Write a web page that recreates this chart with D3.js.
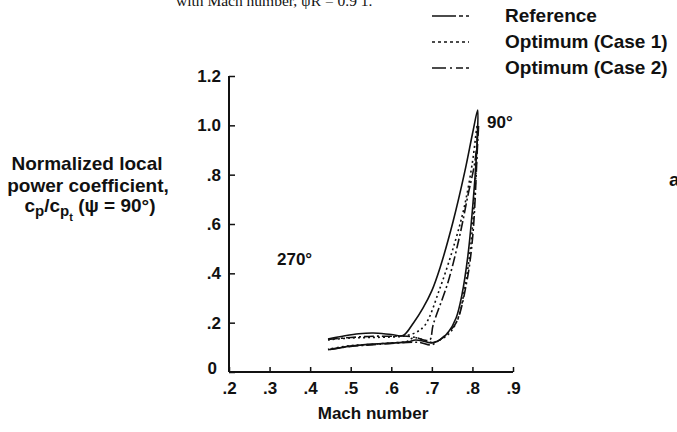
<!DOCTYPE html>
<html lang="en">
<head>
<meta charset="UTF-8">
<title>Normalized local power coefficient vs Mach number</title>
<script src="https://cdn.jsdelivr.net/npm/d3@7"></script>
<style>
  body { margin: 0; background: #fff; }
  text { font-family: "Liberation Sans", Arial, sans-serif; font-weight: bold; fill: #111; }
</style>
</head>
<body>
<div id="chart"></div>
<script>
// data: [Mach number, cp/cpt], 270 deg -> 90 deg -> 270 deg
const refMach = [0.444, 0.48, 0.52, 0.555, 0.60, 0.629, 0.655, 0.678, 0.70, 0.72, 0.752, 0.781, 0.801, 0.813,
                 0.812, 0.810, 0.801, 0.789, 0.774, 0.76, 0.74, 0.72, 0.70, 0.68, 0.66, 0.64, 0.60, 0.55, 0.50, 0.444];
const refCp   = [0.134, 0.145, 0.155, 0.158, 0.152, 0.148, 0.20, 0.259, 0.33, 0.422, 0.608, 0.811, 0.973, 1.062,
                 0.95, 0.88, 0.677, 0.474, 0.312, 0.22, 0.16, 0.13, 0.118, 0.125, 0.13, 0.122, 0.117, 0.113, 0.105, 0.09];

const case1Mach = [0.444, 0.50, 0.555, 0.60, 0.63, 0.66, 0.683, 0.72, 0.757, 0.781, 0.80, 0.812,
                   0.811, 0.805, 0.795, 0.78, 0.765, 0.745, 0.72, 0.70, 0.67, 0.655, 0.64, 0.60, 0.55, 0.50, 0.444];
const case1Cp   = [0.13, 0.138, 0.14, 0.142, 0.145, 0.16, 0.19, 0.34, 0.527, 0.677, 0.85, 1.0,
                   0.90, 0.70, 0.50, 0.33, 0.22, 0.16, 0.13, 0.12, 0.135, 0.14, 0.125, 0.118, 0.112, 0.107, 0.092];

const case2Mach = [0.444, 0.50, 0.555, 0.60, 0.63, 0.66, 0.68, 0.695, 0.703, 0.74, 0.769, 0.789, 0.806, 0.815,
                   0.812, 0.801, 0.786, 0.761, 0.74, 0.715, 0.698, 0.67, 0.64, 0.60, 0.55, 0.50, 0.444];
const case2Cp   = [0.132, 0.14, 0.145, 0.145, 0.146, 0.14, 0.13, 0.13, 0.19, 0.365, 0.555, 0.717, 0.851, 1.0,
                   0.90, 0.555, 0.365, 0.203, 0.16, 0.125, 0.11, 0.12, 0.12, 0.116, 0.11, 0.104, 0.09];

const xTicks = [0.2, 0.3, 0.4, 0.5, 0.6, 0.7, 0.8, 0.9];
const yTicks = [0, 0.2, 0.4, 0.6, 0.8, 1.0, 1.2];
const seriesNames = ["Reference", "Optimum (Case 1)", "Optimum (Case 2)"];

const W = 677, H = 432;
const svg = d3.select("#chart").append("svg").attr("width", W).attr("height", H);

const x = d3.scaleLinear().domain([0.2, 0.9]).range([229, 513]);
const y = d3.scaleLinear().domain([0, 1.2]).range([372, 76]);

const fmt = d => d === 0 ? "0" : (d >= 1 ? d.toFixed(1) : d.toFixed(1).replace(/^0/, ""));

// axes, ticks pointing inward
const gx = svg.append("g").attr("transform", `translate(0,${y(0)})`)
  .call(d3.axisBottom(x).tickValues(xTicks).tickFormat(fmt).tickSizeInner(-5).tickSizeOuter(0).tickPadding(10));
const gy = svg.append("g").attr("transform", `translate(${x(0.2)},0)`)
  .call(d3.axisLeft(y).tickValues(yTicks).tickFormat(fmt).tickSizeInner(-6).tickSizeOuter(0).tickPadding(8));
[gx, gy].forEach(g => {
  g.select(".domain").remove();
  g.selectAll("line").attr("stroke", "#111").attr("stroke-width", 1.5);
  g.selectAll("text").style("font-size", "17px").style("font-family", "Liberation Sans, Arial, sans-serif")
    .style("font-weight", "bold").attr("fill", "#111");
});
gy.selectAll(".tick").filter(d => d === 0).select("text").attr("dx", -4).attr("dy", "0.1em");
svg.append("line").attr("x1", x(0.2)).attr("x2", x(0.9)).attr("y1", y(0)).attr("y2", y(0))
  .attr("stroke", "#111").attr("stroke-width", 2);
svg.append("line").attr("x1", x(0.2)).attr("x2", x(0.2)).attr("y1", y(0)).attr("y2", y(1.2))
  .attr("stroke", "#111").attr("stroke-width", 2);

// curves
const line = d3.line().x(d => x(d[0])).y(d => y(d[1])).curve(d3.curveCatmullRom);
const series = [
  { mach: refMach, cp: refCp, dash: null },
  { mach: case1Mach, cp: case1Cp, dash: "2,3" },
  { mach: case2Mach, cp: case2Cp, dash: "10,3,2,3" }
];
series.forEach(s => {
  svg.append("path")
    .datum(s.mach.map((m, i) => [m, s.cp[i]]))
    .attr("d", line)
    .attr("fill", "none")
    .attr("stroke", "#111")
    .attr("stroke-width", 1.6)
    .attr("stroke-dasharray", s.dash);
});

// annotations
svg.append("text").attr("x", 487).attr("y", 128).style("font-size", "17px").text("90°");
svg.append("text").attr("x", 277).attr("y", 265).style("font-size", "17px").text("270°");

svg.append("text").attr("x", 373).attr("y", 419).attr("text-anchor", "middle")
  .style("font-size", "17px").text("Mach number");

const yt = svg.append("text").attr("text-anchor", "middle").style("font-size", "19px");
yt.append("tspan").attr("x", 87).attr("y", 170).text("Normalized local");
yt.append("tspan").attr("x", 88).attr("y", 192).text("power coefficient,");
const l3 = yt.append("tspan").attr("x", 90).attr("y", 212);
l3.append("tspan").text("c");
l3.append("tspan").attr("dy", 4).style("font-size", "15px").text("p");
l3.append("tspan").attr("dy", -4).text("/c");
l3.append("tspan").attr("dy", 4).style("font-size", "15px").text("p");
l3.append("tspan").attr("dy", 5).style("font-size", "11px").text("t");
l3.append("tspan").attr("dy", -9).text(" (ψ = 90°)");

// legend
const legDash = ["24,3,4,3,4", "3,3", "14,4,2,4,7,3,7"];
const leg = svg.append("g");
seriesNames.forEach((name, i) => {
  const ly = 16 + i * 26;
  leg.append("line").attr("x1", 432).attr("x2", 469).attr("y1", ly).attr("y2", ly)
    .attr("stroke", "#111").attr("stroke-width", 1.5).attr("stroke-dasharray", legDash[i]);
  leg.append("text").attr("x", 505).attr("y", ly + 6).style("font-size", "19px").text(name);
});

// cropped bits of the page around the figure
svg.append("text").attr("x", 176).attr("y", 6)
  .style("font-family", "Liberation Serif, serif").style("font-weight", "normal")
  .style("font-size", "15.5px").text("with Mach number, ψR = 0.9 1.");
svg.append("text").attr("x", 669).attr("y", 186).style("font-size", "19px").text("a");
</script>
</body>
</html>
